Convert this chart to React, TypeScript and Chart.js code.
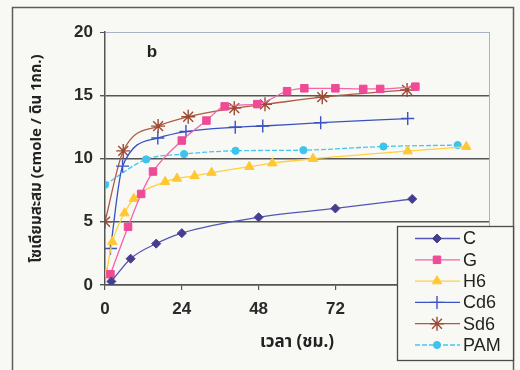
import React, { useEffect, useRef } from "react";
import { Chart, registerables } from "chart.js";
import { drawPoint } from "chart.js/helpers";

Chart.register(...registerables);

const BG = "#f8f8f4";

const seriesNames = ["C", "G", "H6", "Cd6", "Sd6", "PAM"];

const cTime = [2, 8, 16, 24, 48, 72, 96];
const cValues = [0.28, 2.08, 3.27, 4.1, 5.35, 6.05, 6.8];

const gTime = [1.7, 7.2, 11.3, 15, 24, 31.7, 37.4, 47.6, 56.9, 62.3, 72, 80.7, 86, 97];
const gValues = [0.85, 4.6, 7.2, 8.97, 11.42, 13.0, 14.12, 14.3, 15.32, 15.55, 15.55, 15.5, 15.5, 15.68];

const h6Time = [0.4, 2.3, 6.1, 9, 18.8, 22.5, 28, 33.3, 45.1, 52.3, 65, 94.6, 112.9];
const h6Values = [0.92, 3.42, 5.68, 6.82, 8.16, 8.42, 8.62, 8.88, 9.35, 9.63, 9.98, 10.58, 10.93];

const cd6Time = [1.7, 5.5, 16.5, 25.3, 40.7, 49.3, 67.4, 94.6];
const cd6Values = [2.88, 9.4, 11.62, 12.13, 12.47, 12.57, 12.83, 13.16];

const sd6Time = [0, 5.7, 16.6, 26, 40.4, 50, 67.9, 94.4];
const sd6Values = [5.0, 10.6, 12.56, 13.3, 13.98, 14.28, 14.85, 15.42];

const pamTime = [0, 12.85, 24.7, 40.8, 62, 87, 110.2];
const pamValues = [7.92, 9.93, 10.35, 10.61, 10.66, 10.95, 11.06];

const xTickStep = 24;
const yTickStep = 5;

const toXY = (t: number[], v: number[]) => t.map((x, i) => ({ x, y: v[i] }));

export default function App() {
  const ref = useRef<HTMLCanvasElement | null>(null);

  useEffect(() => {
    if (!ref.current) return;

    const decor = {
      id: "decor",
      beforeDraw(chart: any) {
        const ctx = chart.ctx as CanvasRenderingContext2D;
        const a = chart.chartArea;
        ctx.save();
        ctx.fillStyle = BG;
        ctx.fillRect(0, 0, chart.width, chart.height);
        ctx.strokeStyle = "#5c5c5c";
        ctx.lineWidth = 1.5;
        ctx.strokeRect(12.5, 7.5, 501, 420);
        ctx.strokeStyle = "#a8b4c4";
        ctx.lineWidth = 1;
        ctx.beginPath();
        ctx.moveTo(a.right + 0.5, a.top);
        ctx.lineTo(a.right + 0.5, a.bottom);
        ctx.stroke();
        ctx.restore();
      },
      afterDraw(chart: any) {
        const ctx = chart.ctx as CanvasRenderingContext2D;
        const a = chart.chartArea;
        ctx.save();
        // panel letter
        ctx.fillStyle = "#222";
        ctx.font = "bold 17px 'Liberation Sans', Arial, sans-serif";
        ctx.textAlign = "center";
        ctx.textBaseline = "middle";
        ctx.fillText("b", 152, 52);
        // axis titles
        ctx.font = "bold 17px 'Noto Sans Thai', 'Liberation Sans', 'DejaVu Sans', sans-serif";
        ctx.fillText("เวลา (ชม.)", (a.left + a.right) / 2, 344);
        ctx.save();
        ctx.translate(38, (a.top + a.bottom) / 2);
        ctx.rotate(-Math.PI / 2);
        ctx.font = "bold 15px 'Noto Sans Thai', 'Liberation Sans', 'DejaVu Sans', sans-serif";
        ctx.fillText("โซเดียมสะสม (cmole / ดิน 1กก.)", 0, 0);
        ctx.restore();
        // legend
        const lx = 397, ly = 226, lw = 116, lh = 134;
        ctx.fillStyle = BG;
        ctx.fillRect(lx, ly, lw, lh);
        ctx.strokeStyle = "#4a4a4a";
        ctx.lineWidth = 1.3;
        ctx.strokeRect(lx + 0.5, ly + 0.5, lw, lh);
        chart.data.datasets.forEach((ds: any, i: number) => {
          const y = 238.5 + i * 21.3;
          ctx.strokeStyle = ds.borderColor;
          ctx.lineWidth = ds.borderWidth;
          ctx.setLineDash(ds.borderDash || []);
          ctx.beginPath();
          ctx.moveTo(415, y);
          ctx.lineTo(460, y);
          ctx.stroke();
          ctx.setLineDash([]);
          ctx.fillStyle = ds.pointBackgroundColor;
          ctx.strokeStyle = ds.pointBorderColor;
          ctx.lineWidth = ds.pointBorderWidth;
          drawPoint(
            ctx,
            { pointStyle: ds.pointStyle, radius: ds.pointRadius, rotation: 0, borderWidth: ds.pointBorderWidth },
            437,
            y
          );
          ctx.fillStyle = "#222";
          ctx.font = "18px 'Liberation Sans', Arial, sans-serif";
          ctx.textAlign = "left";
          ctx.textBaseline = "middle";
          ctx.fillText(ds.label, 463, y + 1);
        });
        ctx.restore();
      },
    };

    const mk = (
      label: string,
      t: number[],
      v: number[],
      line: string,
      fill: string,
      stroke: string,
      style: string,
      radius: number,
      pbw: number,
      dash?: number[]
    ) => ({
      label,
      data: toXY(t, v),
      borderColor: line,
      borderWidth: 1.3,
      borderDash: dash,
      pointBackgroundColor: fill,
      pointBorderColor: stroke,
      pointBorderWidth: pbw,
      pointStyle: style,
      pointRadius: radius,
      cubicInterpolationMode: "monotone",
      fill: false,
    });

    const tickFont = { family: "'Liberation Sans', Arial, sans-serif", size: 17, weight: "bold" as const };

    const chart = new Chart(ref.current, {
      type: "line",
      data: {
        datasets: [
          mk(seriesNames[0], cTime, cValues, "#5356b8", "#473d8f", "#473d8f", "rectRot", 4.5, 1),
          mk(seriesNames[1], gTime, gValues, "#f563aa", "#ef4a95", "#ef4a95", "rect", 5.3, 1),
          mk(seriesNames[2], h6Time, h6Values, "#ffd040", "#ffc832", "#ffc832", "triangle", 5.4, 1),
          mk(seriesNames[3], cd6Time, cd6Values, "#3a52c2", "#3a52c2", "#3a52c2", "cross", 6.5, 1.4),
          mk(seriesNames[4], sd6Time, sd6Values, "#b05a42", "#9c4a38", "#9c4a38", "star", 7, 1.4),
          mk(seriesNames[5], pamTime, pamValues, "#44c8f0", "#3ec4ec", "#3ec4ec", "circle", 3.6, 1, [5, 2]),
        ] as any,
      },
      options: {
        animation: false,
        responsive: false,
        maintainAspectRatio: false,
        layout: { padding: { left: 0, top: 32, right: 31, bottom: 0 } },
        plugins: { legend: { display: false }, tooltip: { enabled: false }, title: { display: false } },
        scales: {
          x: {
            type: "linear",
            min: 0,
            max: 120,
            afterFit: (s: any) => {
              s.height = 85;
            },
            border: { display: true, color: "#555", width: 1.5 },
            grid: { drawOnChartArea: false, drawTicks: true, tickLength: 5, color: "#555", lineWidth: 1.2 },
            ticks: {
              stepSize: xTickStep,
              padding: 9,
              color: "#2a2a2a",
              font: tickFont,
            },
          },
          y: {
            min: 0,
            max: 20,
            afterFit: (s: any) => {
              s.width = 105;
            },
            border: { display: true, color: "#555", width: 1.5 },
            grid: {
              drawTicks: true,
              tickLength: 5,
              color: (c: any) => (c.tick && c.tick.value === 20 ? "#a8b4c4" : "#555"),
              tickColor: "#555",
              lineWidth: (c: any) => (c.tick && c.tick.value === 20 ? 1 : 1.4),
            },
            ticks: {
              stepSize: yTickStep,
              padding: 7,
              color: "#2a2a2a",
              font: tickFont,
            },
          },
        },
      },
      plugins: [decor],
    } as any);

    return () => chart.destroy();
  }, []);

  return (
    <div style={{ position: "fixed", left: 0, top: 0, width: 520, height: 370, background: BG }}>
      <canvas ref={ref} width={520} height={370} style={{ display: "block", width: 520, height: 370 }} />
    </div>
  );
}
